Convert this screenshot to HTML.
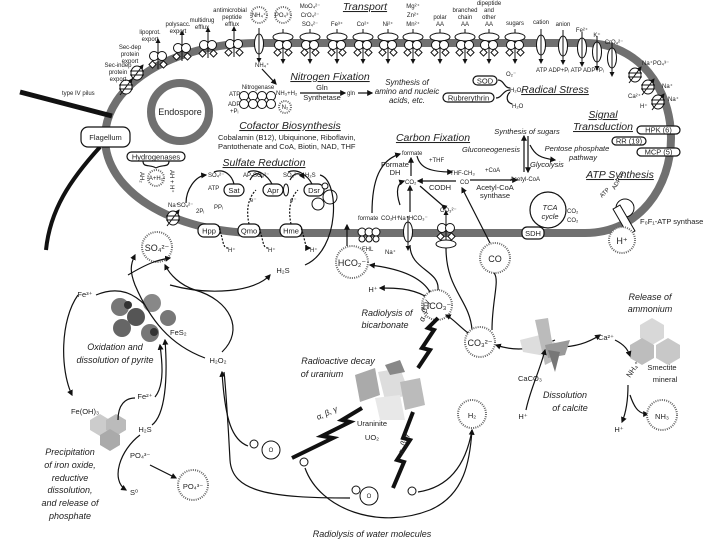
<!DOCTYPE html>
<html><head><meta charset="utf-8"><style>
html,body{margin:0;padding:0;background:#fff}
svg{display:block}
text{font-family:"Liberation Sans",sans-serif;fill:#222}
.s{font-size:6px}
.m{font-size:7.5px}
.l{font-size:9px}
.t{font-size:10.5px;font-style:italic;text-decoration:underline}
.i{font-size:9px;font-style:italic}
.ln{fill:none;stroke:#111;stroke-width:1.2}
.dc{fill:#fff;stroke:#666;stroke-width:2;stroke-dasharray:1 1.2}
.bx{fill:#fff;stroke:#111;stroke-width:1.2}
.bolt{fill:none;stroke:#111;stroke-width:4;stroke-linejoin:miter}
</style></head><body>
<svg width="720" height="540" viewBox="0 0 720 540" xmlns="http://www.w3.org/2000/svg">
<defs>
<marker id="a" viewBox="0 0 10 10" refX="8" refY="5" markerWidth="5" markerHeight="5" orient="auto"><path d="M0,0L10,5L0,10z" fill="#111"/></marker>
<g id="abc"><line x1="0" y1="-16" x2="0" y2="18" stroke="#111" stroke-width="1" marker-end="url(#a)"/><ellipse cx="0" cy="-8" rx="10" ry="4" fill="#fff" stroke="#111"/><circle cx="-4" cy="0" r="4.5" fill="#fff" stroke="#111"/><circle cx="4" cy="0" r="4.5" fill="#fff" stroke="#111"/><rect x="-8" y="5" width="5" height="5" transform="rotate(45 -5.5 7.5)" fill="#fff" stroke="#111"/><rect x="3" y="5" width="5" height="5" transform="rotate(45 5.5 7.5)" fill="#fff" stroke="#111"/></g>
<g id="efx"><line x1="0" y1="12" x2="0" y2="-18" stroke="#111" stroke-width="1" marker-end="url(#a)"/><circle cx="-4" cy="-1" r="4.5" fill="#fff" stroke="#111"/><circle cx="4" cy="-1" r="4.5" fill="#fff" stroke="#111"/><rect x="-8" y="5" width="5" height="5" transform="rotate(45 -5.5 7.5)" fill="#fff" stroke="#111"/><rect x="3" y="5" width="5" height="5" transform="rotate(45 5.5 7.5)" fill="#fff" stroke="#111"/></g>
<g id="ch"><line x1="0" y1="-16" x2="0" y2="18" stroke="#111" stroke-width="1" marker-end="url(#a)"/><ellipse cx="0" cy="0" rx="4.5" ry="10" fill="#fff" stroke="#111"/><line x1="0" y1="-10" x2="0" y2="10" stroke="#111"/></g>
<g id="sym"><ellipse cx="0" cy="0" rx="6" ry="7" fill="#fff" stroke="#111"/><line x1="-7" y1="-2" x2="7" y2="-2" stroke="#111"/><line x1="-7" y1="2" x2="7" y2="2" stroke="#111"/><line x1="-6" y1="8" x2="6" y2="-8" stroke="#111" marker-end="url(#a)"/></g>
</defs>

<path d="M260,43 L585,43 C640,43 671,90 671,138 C671,186 640,233 585,233 L260,233 C170,233 105,190 105,138 C105,86 170,43 260,43Z" fill="none" stroke="#707070" stroke-width="8"/>
<line x1="20" y1="92" x2="112" y2="116" stroke="#111" stroke-width="5"/>
<path d="M100,147 C70,180 50,210 46,250" fill="none" stroke="#111" stroke-width="4"/>
<rect x="81" y="127" width="49" height="20" rx="7" class="bx"/>
<text x="105.5" y="140" class="m" text-anchor="middle">Flagellum</text>
<text x="62" y="95" class="s">type IV pilus</text>
<circle cx="180" cy="112" r="29" fill="none" stroke="#707070" stroke-width="8"/>
<text x="180" y="115" class="l" text-anchor="middle">Endospore</text>

<use href="#abc" x="283" y="45"/><use href="#abc" x="310" y="45"/><use href="#abc" x="337" y="45"/><use href="#abc" x="363" y="45"/><use href="#abc" x="388" y="45"/><use href="#abc" x="413" y="45"/><use href="#abc" x="440" y="45"/><use href="#abc" x="465" y="45"/><use href="#abc" x="489" y="45"/><use href="#abc" x="515" y="45"/>
<use href="#efx" x="234" y="45"/><use href="#efx" x="208" y="46"/><use href="#efx" x="182" y="49"/><use href="#efx" x="158" y="57"/>
<use href="#ch" x="259" y="44"/><use href="#ch" x="541" y="45"/><use href="#ch" x="563" y="46"/><use href="#ch" x="582" y="48"/><use href="#ch" x="597" y="52"/><use href="#ch" x="612" y="58"/>
<use href="#sym" x="137" y="73"/><use href="#sym" x="126" y="87"/>
<use href="#sym" x="635" y="75"/><use href="#sym" x="648" y="87"/><use href="#sym" x="658" y="102"/>
<text x="118" y="67" class="s" text-anchor="middle">Sec-indep</text><text x="118" y="74" class="s" text-anchor="middle">protein</text><text x="118" y="81" class="s" text-anchor="middle">export</text>
<text x="130" y="49" class="s" text-anchor="middle">Sec-dep</text><text x="130" y="56" class="s" text-anchor="middle">protein</text><text x="130" y="63" class="s" text-anchor="middle">export</text>
<text x="150" y="34" class="s" text-anchor="middle">lipoprot.</text><text x="150" y="41" class="s" text-anchor="middle">export</text>
<text x="178" y="26" class="s" text-anchor="middle">polysacc.</text><text x="178" y="33" class="s" text-anchor="middle">export</text>
<text x="202" y="22" class="s" text-anchor="middle">multidrug</text><text x="202" y="29" class="s" text-anchor="middle">efflux</text>
<text x="230" y="12" class="s" text-anchor="middle">antimicrobial</text><text x="232" y="19" class="s" text-anchor="middle">peptide</text><text x="232" y="26" class="s" text-anchor="middle">efflux</text>
<circle cx="259" cy="15" r="8" class="dc"/><text x="259" y="17" class="s" text-anchor="middle">NH₄⁺</text>
<circle cx="283" cy="15" r="8" class="dc"/><text x="283" y="17" class="s" text-anchor="middle">PO₄³⁻</text>
<text x="310" y="8" class="s" text-anchor="middle">MoO₄²⁻</text><text x="310" y="17" class="s" text-anchor="middle">CrO₄²⁻</text><text x="310" y="26" class="s" text-anchor="middle">SO₄²⁻</text>
<text x="337" y="26" class="s" text-anchor="middle">Fe³⁺</text><text x="363" y="26" class="s" text-anchor="middle">Co²⁺</text><text x="388" y="26" class="s" text-anchor="middle">Ni²⁺</text>
<text x="413" y="8" class="s" text-anchor="middle">Mg²⁺</text><text x="413" y="17" class="s" text-anchor="middle">Zn²⁺</text><text x="413" y="26" class="s" text-anchor="middle">Mn²⁺</text>
<text x="440" y="19" class="s" text-anchor="middle">polar</text><text x="440" y="26" class="s" text-anchor="middle">AA</text>
<text x="465" y="12" class="s" text-anchor="middle">branched</text><text x="465" y="19" class="s" text-anchor="middle">chain</text><text x="465" y="26" class="s" text-anchor="middle">AA</text>
<text x="489" y="5" class="s" text-anchor="middle">dipeptide</text><text x="489" y="12" class="s" text-anchor="middle">and</text><text x="489" y="19" class="s" text-anchor="middle">other</text><text x="489" y="26" class="s" text-anchor="middle">AA</text>
<text x="515" y="25" class="s" text-anchor="middle">sugars</text><text x="541" y="24" class="s" text-anchor="middle">cation</text><text x="563" y="26" class="s" text-anchor="middle">anion</text>
<text x="582" y="32" class="s" text-anchor="middle">Fe²⁺</text><text x="597" y="37" class="s" text-anchor="middle">K⁺</text><text x="614" y="44" class="s" text-anchor="middle">CrO₄²⁻</text>
<text x="536" y="72" class="s">ATP  ADP+Pᵢ ATP ADP+Pᵢ</text>
<text x="642" y="65" class="s">Na⁺PO₄³⁻</text><text x="662" y="88" class="s">Na⁺</text><text x="628" y="98" class="s">Ca²⁺</text><text x="668" y="101" class="s">Na⁺</text><text x="640" y="108" class="s">H⁺</text>
<text x="365" y="10" class="t" text-anchor="middle">Transport</text>

<text x="330" y="80" class="t" text-anchor="middle">Nitrogen Fixation</text>
<text x="255" y="67" class="s">NH₄⁺</text><line x1="262" y1="69" x2="276" y2="84" class="ln" marker-end="url(#a)"/>
<text x="258" y="89" class="s" text-anchor="middle">Nitrogenase</text>
<g fill="#fff" stroke="#111"><circle cx="244" cy="96" r="4.5"/><circle cx="253" cy="96" r="4.5"/><circle cx="262" cy="96" r="4.5"/><circle cx="271" cy="96" r="4.5"/><circle cx="244" cy="104" r="4.5"/><circle cx="253" cy="104" r="4.5"/><circle cx="262" cy="104" r="4.5"/><circle cx="271" cy="104" r="4.5"/></g>
<text x="229" y="96" class="s">ATP</text><text x="228" y="106" class="s">ADP</text><text x="230" y="113" class="s">+Pᵢ</text>
<circle cx="285" cy="107" r="6" class="dc"/><text x="285" y="109" class="s" text-anchor="middle">N₂</text>
<text x="276" y="95" class="s">NH₃+H₂</text>
<line x1="300" y1="93" x2="345" y2="93" class="ln" marker-end="url(#a)"/>
<text x="322" y="90" class="m" text-anchor="middle">Gln</text><text x="322" y="100" class="m" text-anchor="middle">Synthetase</text>
<text x="347" y="95" class="s">gln</text><line x1="358" y1="93" x2="372" y2="93" class="ln" marker-end="url(#a)"/>
<text x="407" y="85" class="i" text-anchor="middle" style="font-size:8px">Synthesis of</text><text x="407" y="94" class="i" text-anchor="middle" style="font-size:8px">amino and nucleic</text><text x="407" y="103" class="i" text-anchor="middle" style="font-size:8px">acids, etc.</text>

<rect x="473" y="76" width="24" height="9" rx="4.5" class="bx"/><text x="485" y="83.5" class="m" text-anchor="middle">SOD</text>
<rect x="443" y="93" width="51" height="9" rx="4.5" class="bx"/><text x="468.5" y="100.5" class="m" text-anchor="middle">Rubrerythrin</text>
<path d="M498,80 C504,80 504,88 510,88 M496,98 C502,98 503,90 510,90 M510,92 C506,96 506,102 512,104" class="ln"/>
<text x="506" y="76" class="s">O₂⁻</text><text x="510" y="92" class="s">H₂O₂</text><text x="512" y="108" class="s">H₂O</text>
<text x="555" y="93" class="t" text-anchor="middle">Radical Stress</text>

<text x="290" y="129" class="t" text-anchor="middle">Cofactor Biosynthesis</text>
<text x="218" y="140" class="m">Cobalamin (B12), Ubiquinone, Riboflavin,</text>
<text x="218" y="149" class="m">Pantothenate and CoA, Biotin, NAD, THF</text>

<rect x="127" y="152" width="58" height="9" rx="4.5" class="bx"/><text x="156" y="159.5" class="m" text-anchor="middle">Hydrogenases</text>
<circle cx="156" cy="178" r="8" class="dc"/>
<text x="156" y="180" class="s" text-anchor="middle">A+H₂</text>
<path d="M143,161 C143,168 150,164 156,168 M169,161 C169,168 162,164 156,168" class="ln"/>
<text x="140" y="172" class="s" transform="rotate(90 140 172)">AH₂</text><text x="170" y="170" class="s" transform="rotate(90 170 170)">AH + H⁺</text>

<text x="264" y="166" class="t" text-anchor="middle">Sulfate Reduction</text>
<text x="208" y="177" class="s">SO₄²⁻</text><text x="243" y="177" class="s">AP-SO₄²⁻</text><text x="283" y="177" class="s">SO₃²⁻</text><text x="305" y="177" class="s">H₂S</text>
<rect x="224" y="184" width="20" height="12" rx="6" class="bx"/><text x="234" y="193" class="m" text-anchor="middle">Sat</text>
<text x="208" y="190" class="s">ATP</text><text x="214" y="209" class="s">PPᵢ</text><text x="196" y="213" class="s">2Pᵢ</text>
<rect x="263" y="184" width="20" height="12" rx="6" class="bx"/><text x="273" y="193" class="m" text-anchor="middle">Apr</text><ellipse cx="286" cy="190" rx="2.5" ry="6" fill="#fff" stroke="#111"/>
<rect x="304" y="184" width="20" height="12" rx="6" class="bx"/><text x="314" y="193" class="m" text-anchor="middle">Dsr</text>
<circle cx="330" cy="197" r="7" fill="#fff" stroke="#111"/><circle cx="318" cy="204" r="6" fill="#fff" stroke="#111"/><circle cx="325" cy="186" r="3" fill="#fff" stroke="#111"/>
<path d="M214,172 C225,168 232,176 234,184 M248,172 C258,168 268,176 272,184 M288,172 C298,168 308,176 312,184" class="ln"/>
<path d="M250,180 C254,172 260,172 262,178 M290,180 C294,172 300,172 304,178" class="ln" marker-end="url(#a)"/>
<path d="M320,175 C340,180 340,250 305,265" class="ln"/>
<text x="250" y="202" class="s">e⁻</text><text x="290" y="202" class="s">e⁻</text>
<rect x="198" y="224" width="22" height="13" rx="6" class="bx"/><text x="209" y="233.5" class="m" text-anchor="middle">Hpp</text>
<rect x="238" y="224" width="22" height="13" rx="6" class="bx"/><text x="249" y="233.5" class="m" text-anchor="middle">Qmo</text>
<rect x="280" y="224" width="22" height="13" rx="6" class="bx"/><text x="291" y="233.5" class="m" text-anchor="middle">Hme</text>
<path d="M249,224 C246,210 248,198 256,190 M291,224 C288,210 290,198 298,190" class="ln" stroke-dasharray="2 1.5"/>
<path d="M218,225 C224,240 222,248 228,248 M258,225 C264,240 262,248 268,248 M300,225 C306,240 304,248 310,248" class="ln" stroke-dasharray="2 1.5" marker-end="url(#a)"/>
<text x="228" y="252" class="s">H⁺</text><text x="268" y="252" class="s">H⁺</text><text x="310" y="252" class="s">H⁺</text>
<use href="#sym" x="173" y="218"/>
<text x="168" y="207" class="s">Na⁺</text><text x="177" y="207" class="s">SO₄²⁻</text>
<path d="M186,203 C186,190 195,176 206,175" class="ln" marker-end="url(#a)"/>
<circle cx="157" cy="247" r="15" class="dc"/><text x="157" y="251" class="l" text-anchor="middle">SO₄²⁻</text>

<text x="433" y="141" class="t" text-anchor="middle">Carbon Fixation</text>
<text x="402" y="155" class="s">formate</text>
<text x="395" y="167" class="m" text-anchor="middle">Formate</text><text x="395" y="175" class="m" text-anchor="middle">DH</text>
<line x1="411" y1="176" x2="411" y2="158" class="ln" marker-end="url(#a)"/>
<text x="405" y="184" class="s">CO₂</text>
<text x="429" y="162" class="s">+THF</text>
<path d="M417,156 C420,168 430,172 452,172" class="ln" marker-end="url(#a)"/>
<text x="450" y="175" class="s">THF-CH₃</text><text x="460" y="184" class="s">CO</text>
<line x1="456" y1="181" x2="418" y2="181" class="ln" marker-end="url(#a)"/>
<text x="440" y="190" class="m" text-anchor="middle">CODH</text>
<line x1="470" y1="180" x2="517" y2="180" class="ln" marker-end="url(#a)"/>
<text x="485" y="172" class="s">+CoA</text>
<text x="495" y="190" class="m" text-anchor="middle">Acetyl-CoA</text><text x="495" y="198" class="m" text-anchor="middle">synthase</text>
<text x="510" y="181" class="s">Acetyl-CoA</text>
<line x1="524" y1="172" x2="524" y2="136" class="ln" marker-end="url(#a)"/><line x1="528" y1="136" x2="528" y2="172" class="ln" marker-end="url(#a)"/>
<text x="527" y="134" class="i" text-anchor="middle" style="font-size:7.5px">Synthesis of sugars</text>
<text x="520" y="152" class="i" text-anchor="end" style="font-size:7.5px">Gluconeogenesis</text>
<text x="577" y="151" class="i" text-anchor="middle" style="font-size:7.5px">Pentose phosphate</text><text x="583" y="160" class="i" text-anchor="middle" style="font-size:7.5px">pathway</text>
<text x="530" y="167" class="i" style="font-size:7.5px">Glycolysis</text>
<path d="M530,145 C535,155 540,158 555,160" class="ln" marker-end="url(#a)"/>
<circle cx="548" cy="210" r="18" fill="none" stroke="#111" stroke-width="1.2"/>
<text x="550" y="210" class="i" text-anchor="middle" style="font-size:7.5px">TCA</text><text x="550" y="219" class="i" text-anchor="middle" style="font-size:7.5px">cycle</text>
<text x="567" y="213" class="s">CO₂</text><text x="567" y="222" class="s">CO₂</text>
<rect x="522" y="227" width="22" height="12" rx="5" class="bx"/><text x="533" y="236" class="m" text-anchor="middle">SDH</text>
<path d="M400,205 C395,190 398,183 404,181" class="ln" marker-end="url(#a)"/>
<path d="M372,213 C372,180 380,160 400,154" class="ln" marker-end="url(#a)"/>
<line x1="410" y1="212" x2="410" y2="186" class="ln" marker-end="url(#a)"/>
<path d="M442,205 L420,186" class="ln" marker-start="url(#a)"/>
<text x="440" y="212" class="s">CO₃²⁻</text>
<line x1="490" y1="243" x2="462" y2="188" class="ln" marker-end="url(#a)"/>
<text x="358" y="220" class="s">formate</text><text x="381" y="220" class="s">CO₂</text><text x="392" y="220" class="s">H⁺</text>
<text x="398" y="220" class="s">Na⁺HCO₃⁻</text>
<g fill="#fff" stroke="#111"><circle cx="362" cy="232" r="4"/><circle cx="369" cy="232" r="4"/><circle cx="376" cy="232" r="4"/><circle cx="362" cy="239" r="3"/><circle cx="369" cy="239" r="3"/><circle cx="376" cy="239" r="3"/></g>
<text x="362" y="251" class="s">FHL</text><text x="385" y="254" class="s">Na⁺</text>
<use href="#ch" x="408" y="232"/>
<use href="#efx" x="446" y="229"/><ellipse cx="446" cy="244" rx="10" ry="4" fill="#fff" stroke="#111"/>
<path d="M410,245 C410,270 440,270 438,290" class="ln"/>
<path d="M446,248 C446,290 470,300 472,330" class="ln"/>
<circle cx="352" cy="262" r="16" class="dc"/><text x="352" y="266" class="l" text-anchor="middle">HCO₂⁻</text>
<line x1="347" y1="246" x2="347" y2="225" class="ln" marker-end="url(#a)"/>
<circle cx="495" cy="258" r="15" class="dc"/><text x="495" y="262" class="l" text-anchor="middle">CO</text>

<text x="620" y="178" class="t" text-anchor="middle">ATP Synthesis</text>
<circle cx="625" cy="208" r="9" fill="#fff" stroke="#111"/><rect x="620" y="205" width="8" height="30" transform="rotate(-30 624 220)" fill="#fff" stroke="#111"/>
<text x="602" y="198" class="s" transform="rotate(-45 602 198)">ATP</text><text x="615" y="190" class="s" transform="rotate(-60 615 190)">ADP+Pᵢ</text>
<text x="640" y="224" class="m">F₀F₁-ATP synthase</text>
<circle cx="622" cy="240" r="13" class="dc"/><text x="622" y="244" class="l" text-anchor="middle">H⁺</text>

<text x="603" y="118" class="t" text-anchor="middle">Signal</text><text x="603" y="130" class="t" text-anchor="middle">Transduction</text>
<rect x="637" y="126" width="43" height="8" rx="4" class="bx"/><text x="658.5" y="132.5" class="m" text-anchor="middle">HPK (6)</text>
<rect x="612" y="137" width="34" height="8" rx="4" class="bx"/><text x="629" y="143.5" class="m" text-anchor="middle">RR (19)</text>
<rect x="637" y="148" width="43" height="8" rx="4" class="bx"/><text x="658.5" y="154.5" class="m" text-anchor="middle">MCP (5)</text>

<text x="283" y="273" class="m" text-anchor="middle">H₂S</text>
<circle cx="437" cy="305" r="15" class="dc"/><text x="437" y="309" class="l" text-anchor="middle">HCO₃⁻</text>
<path d="M430,292 C420,275 395,268 370,265" class="ln" marker-end="url(#a)"/>
<path d="M425,296 C410,288 395,288 380,288" class="ln" marker-end="url(#a)"/>
<text x="373" y="292" class="m" text-anchor="middle">H⁺</text>
<text x="387" y="316" class="i" text-anchor="middle">Radiolysis of</text><text x="385" y="328" class="i" text-anchor="middle">bicarbonate</text>
<circle cx="480" cy="342" r="15" class="dc"/><text x="480" y="346" class="l" text-anchor="middle">CO₃²⁻</text>
<path d="M468,333 C458,325 452,318 446,315" class="ln" marker-end="url(#a)"/>
<path d="M492,330 C492,300 500,280 494,273" class="ln"/>
<path d="M555,340 C530,352 510,350 496,345" class="ln" marker-end="url(#a)"/>
<path d="M540,345 C565,350 585,345 600,335" class="ln" marker-end="url(#a)"/>
<g stroke="none"><path d="M520,340 L540,335 L560,345 L545,356 L523,352Z" fill="#ddd"/><path d="M535,320 L548,318 L555,360 L545,365Z" fill="#bbb"/><path d="M545,345 L570,340 L565,355 L548,358Z" fill="#999"/><path d="M548,350 L560,352 L555,372 Z" fill="#777"/></g>
<text x="518" y="381" class="m">CaCO₃</text>
<text x="565" y="398" class="i" text-anchor="middle">Dissolution</text><text x="570" y="411" class="i" text-anchor="middle">of calcite</text>
<text x="523" y="419" class="m" text-anchor="middle">H⁺</text>
<path d="M526,410 C530,390 540,370 545,350" class="ln" marker-end="url(#a)"/>
<text x="606" y="340" class="m" text-anchor="middle">Ca²⁺</text>
<text x="650" y="300" class="i" text-anchor="middle">Release of</text><text x="650" y="312" class="i" text-anchor="middle">ammonium</text>
<g stroke="none"><path d="M640,325 L652,318 L664,325 L664,338 L652,345 L640,338Z" fill="#d8d8d8"/><path d="M656,345 L668,338 L680,345 L680,358 L668,365 L656,358Z" fill="#c8c8c8"/><path d="M630,345 L642,338 L654,345 L654,358 L642,365 L630,358Z" fill="#bdbdbd"/></g>
<text x="630" y="378" class="m" transform="rotate(-55 630 378)">NH₄⁺</text>
<text x="662" y="370" class="m" text-anchor="middle">Smectite</text><text x="665" y="382" class="m" text-anchor="middle">mineral</text>
<path d="M615,340 C625,345 628,350 630,356" class="ln" marker-end="url(#a)"/>
<path d="M628,385 C628,405 625,415 622,422" class="ln" marker-end="url(#a)"/>
<path d="M630,395 C635,410 640,414 648,414" class="ln" marker-end="url(#a)"/>
<text x="619" y="432" class="m" text-anchor="middle">H⁺</text>
<circle cx="662" cy="415" r="15" class="dc"/><text x="662" y="419" class="m" text-anchor="middle">NH₃</text>

<text x="85" y="297" class="m" text-anchor="middle">Fe³⁺</text>
<g><circle cx="120" cy="307" r="9" fill="#777"/><circle cx="152" cy="303" r="9" fill="#888"/><circle cx="136" cy="317" r="9" fill="#555"/><circle cx="168" cy="318" r="8" fill="#777"/><circle cx="122" cy="328" r="9" fill="#666"/><circle cx="150" cy="333" r="9" fill="#777"/><circle cx="128" cy="305" r="4" fill="#333"/><circle cx="154" cy="332" r="4" fill="#333"/></g>
<text x="170" y="335" class="m">FeS₂</text>
<text x="115" y="350" class="i" text-anchor="middle">Oxidation and</text><text x="115" y="363" class="i" text-anchor="middle">dissolution of pyrite</text>
<text x="218" y="363" class="m" text-anchor="middle">H₂O₂</text>
<path d="M96,295 C120,285 135,295 145,305" class="ln"/>
<path d="M78,295 C60,320 60,370 72,395" class="ln" marker-end="url(#a)"/>
<path d="M205,358 C170,345 150,320 135,285 C130,272 130,265 135,255" class="ln" marker-end="url(#a)"/>
<path d="M222,352 C245,330 230,300 195,290 C180,285 170,275 165,265" class="ln" marker-end="url(#a)"/>
<path d="M170,285 C210,296 255,292 270,275" class="ln" marker-end="url(#a)"/>
<path d="M128,275 C150,262 158,260 170,258" class="ln" marker-end="url(#a)"/>
<text x="85" y="414" class="m" text-anchor="middle">Fe(OH)₃</text>
<g stroke="none"><path d="M90,420 L100,414 L110,420 L110,430 L100,436 L90,430Z" fill="#ccc"/><path d="M106,420 L116,414 L126,420 L126,430 L116,436 L106,430Z" fill="#bbb"/><path d="M100,435 L110,429 L120,435 L120,445 L110,451 L100,445Z" fill="#aaa"/></g>
<text x="145" y="399" class="m" text-anchor="middle">Fe²⁺</text>
<path d="M118,420 C118,405 125,398 135,398" class="ln"/>
<path d="M155,397 C165,385 162,360 160,345" class="ln" marker-end="url(#a)"/>
<text x="145" y="432" class="m" text-anchor="middle">H₂S</text>
<path d="M152,425 C165,415 168,380 165,340" class="ln" marker-end="url(#a)"/>
<text x="130" y="458" class="m">PO₄³⁻</text>
<path d="M140,435 C120,450 110,480 126,490" class="ln" marker-end="url(#a)"/>
<text x="134" y="495" class="m" text-anchor="middle">S⁰</text>
<line x1="150" y1="465" x2="176" y2="478" class="ln" marker-end="url(#a)"/>
<circle cx="193" cy="485" r="15" class="dc"/><text x="193" y="489" class="m" text-anchor="middle">PO₄³⁻</text>
<g text-anchor="middle"><text x="70" y="455" class="i">Precipitation</text><text x="70" y="468" class="i">of iron oxide,</text><text x="70" y="481" class="i">reductive</text><text x="70" y="493" class="i">dissolution,</text><text x="70" y="506" class="i">and release of</text><text x="70" y="519" class="i">phosphate</text></g>

<text x="338" y="364" class="i" text-anchor="middle">Radioactive decay</text><text x="322" y="377" class="i" text-anchor="middle">of uranium</text>
<g stroke="none"><path d="M355,375 L375,368 L380,395 L360,402Z" fill="#aaa"/><path d="M378,372 L400,368 L410,395 L385,400Z" fill="#ddd"/><path d="M400,382 L420,378 L425,405 L405,410Z" fill="#bbb"/><path d="M375,398 L400,395 L405,420 L380,420Z" fill="#e8e8e8"/><path d="M385,365 L400,360 L405,372 L390,375Z" fill="#888"/></g>
<text x="372" y="426" class="m" text-anchor="middle">Uraninite</text><text x="372" y="440" class="m" text-anchor="middle">UO₂</text>
<polyline class="bolt" points="292,458 333,438 322,436 350,422 342,420 362,408"/>
<text x="318" y="420" class="i" style="font-size:8px" transform="rotate(-25 318 420)">α, β, γ</text>
<polyline class="bolt" points="418,368 430,350 422,348 434,330 428,328 438,318"/>
<text x="424" y="322" class="i" style="font-size:8px" transform="rotate(-75 424 322)">α, β, γ</text>
<polyline class="bolt" points="393,488 404,462 397,460 410,440 403,438 413,412"/>
<text x="403" y="455" class="i" style="font-size:8px" transform="rotate(-75 403 455)">α, β, γ</text>
<circle cx="472" cy="414" r="14" class="dc"/><text x="472" y="418" class="m" text-anchor="middle">H₂</text>
<g fill="#fff" stroke="#111"><circle cx="254" cy="444" r="4"/><circle cx="271" cy="450" r="9"/><circle cx="304" cy="462" r="4"/><circle cx="356" cy="490" r="4"/><circle cx="369" cy="496" r="9"/><circle cx="412" cy="491" r="4"/></g>
<text x="271" y="452" class="s" text-anchor="middle">O</text><text x="369" y="498" class="s" text-anchor="middle">O</text>
<path d="M248,446 C232,440 225,420 222,372" class="ln" marker-end="url(#a)"/>
<path d="M350,498 C270,498 232,492 230,460 C228,420 225,380 224,372" class="ln"/>
<path d="M305,468 C320,510 380,530 430,510 C465,495 470,460 472,430" class="ln" marker-end="url(#a)"/>
<path d="M418,492 C445,488 465,470 472,430" class="ln"/>
<text x="372" y="537" class="i" text-anchor="middle">Radiolysis of water molecules</text>
</svg>
</body></html>
